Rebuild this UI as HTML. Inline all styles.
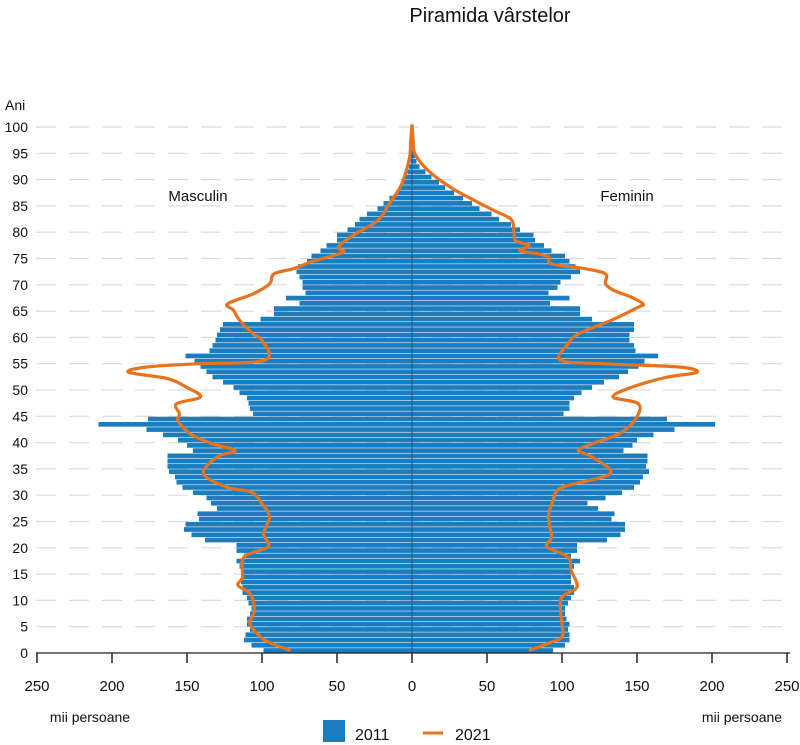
<!DOCTYPE html>
<html><head><meta charset="utf-8"><style>
body{margin:0;background:#fff;width:800px;height:745px;overflow:hidden}
svg{display:block}
text{font-family:"Liberation Sans",sans-serif;fill:#111}
</style></head><body>
<svg id="s" width="800" height="745" viewBox="0 0 800 745" xmlns="http://www.w3.org/2000/svg">
<text x="490" y="22" font-size="20" text-anchor="middle">Piramida vârstelor</text>
<text x="5" y="110" font-size="14">Ani</text>
<text x="198" y="201" font-size="15" text-anchor="middle">Masculin</text>
<text x="627" y="201" font-size="15" text-anchor="middle">Feminin</text>
<text x="90" y="722" font-size="14" text-anchor="middle">mii persoane</text>
<text x="742" y="722" font-size="14" text-anchor="middle">mii persoane</text>
<rect x="323" y="720" width="22" height="22" fill="#1a7dbf"/>
<text x="355" y="740" font-size="16">2011</text>
<line x1="423" y1="733" x2="443" y2="733" stroke="#e8731f" stroke-width="3"/>
<text x="455" y="740" font-size="16">2021</text>
<g id="g"></g>
</svg>
<script>
var M=[99,107,112,111,108,110,110,108,107,109,110,113,113,114,114,114,115,117,112,117,117,138,147,152,151,142,143,130,134,137,146,153,157,158,162,163,163,163,146,150,156,166,177,209,176,106,108,109,110,115,119,126,133,137,141,145,151,135,133,131,130,128,126,101,92,92,75,84,71,73,73,75,77,76,70,67,61,57,50,50,43,38,35,30,23,19,15,10,8,6,4.5,3,2,1,0.8,0.6,0.4,0.3,0.2,0.1,0.1];
var F=[94,102,105,105,104,105,103,102,102,104,106,108,108,106,106,106,108,112,106,110,110,130,139,142,142,133,135,124,117,129,140,148,152,154,158,156,157,157,141,147,150,161,175,202,170,101,105,105,108,113,120,128,138,144,151,155,164,149,148,145,145,148,148,120,112,112,92,105,91,97,99,106,112,109,105,102,93,88,82,81,72,66,58,53,45,40,34,28,22,18,13,9,5,3,2,1.5,1,0.6,0.4,0.2,0.1];
var LM=[[0,81],[1.5,95],[2.6,101],[5.1,108],[7.7,105],[10.8,108],[12.4,116],[14,113],[17.8,112],[19.7,96],[22.2,99],[25.4,95],[27.9,100],[30.1,107],[31,123],[33.6,139],[36.8,130],[38,118],[39.3,133],[41.2,148],[43.7,156],[45,155],[46.9,157],[48.2,141],[50,150],[51.7,163],[52.9,189],[53.9,177],[54.5,144],[55.2,98],[59,100],[60.2,106],[62.8,115],[64.7,119],[65.9,123],[67.8,106],[69.7,95],[71.6,92],[72.6,79],[74,66],[75.7,46],[76.7,49],[79,39],[81.7,23],[85,15],[88,8],[91,4],[94,1.5],[97,0.8],[100,0]];
var LF=[[0,78],[1.5,92],[2.6,100],[5.1,100],[7.7,99],[10.2,100],[12.1,110],[15.3,106],[17.8,104],[19.7,90],[21.6,93],[25.4,91],[28.5,94],[31,100],[33.6,132],[36.8,120],[38,111],[39.3,120],[41.2,138],[44,149],[46.9,151],[48.2,134],[50,146],[51.9,169],[52.9,190],[53.9,178],[54.5,129],[55.2,99],[58.3,104],[60.2,111],[62.8,133],[65.3,151],[65.9,154],[67.2,146],[68.4,135],[69.7,129],[71.6,129],[72.6,115],[73.5,93],[74.8,91],[75.4,84],[76,72],[77,78],[77.9,69],[79.7,68],[82,66],[83.6,55],[85.5,42],[88,26],[91.2,11],[94.4,2],[97,0.8],[100,0]];
var g=document.getElementById('g'),h='';
function Y(a){return 650.5-a*5.26}
for(var a=0;a<=100;a+=5){var y=653-a*5.26;
 if(a>0)h+='<line x1="36" y1="'+y+'" x2="790" y2="'+y+'" stroke="#dcdcdc" stroke-width="1.2" stroke-dasharray="20,13"/>';
 h+='<text x="28" y="'+(y+5)+'" font-size="14" text-anchor="end">'+a+'</text>';}
for(var i=0;i<=100;i++){var yc=Y(i),w=M[i]*1.5,wf=F[i]*1.5;
 h+='<rect x="'+(412-w)+'" y="'+(yc-2.35)+'" width="'+w+'" height="4.7" fill="#1a7dbf"/>';
 h+='<rect x="412" y="'+(yc-2.35)+'" width="'+wf+'" height="4.7" fill="#1a7dbf"/>';}
h+='<line x1="412" y1="125" x2="412" y2="653" stroke="#1c5b85" stroke-width="1"/>';
function path(L,s){var P=L.map(function(p){return [412+s*p[1]*1.5,Y(p[0])]});
 var d='M'+P[0][0].toFixed(1)+','+P[0][1].toFixed(1);
 for(var i=0;i<P.length-1;i++){var p0=P[Math.max(0,i-1)],p1=P[i],p2=P[i+1],p3=P[Math.min(P.length-1,i+2)];
  var c1x=p1[0]+(p2[0]-p0[0])/6,c1y=p1[1]+(p2[1]-p0[1])/6,c2x=p2[0]-(p3[0]-p1[0])/6,c2y=p2[1]-(p3[1]-p1[1])/6;
  d+=' C'+c1x.toFixed(1)+','+c1y.toFixed(1)+' '+c2x.toFixed(1)+','+c2y.toFixed(1)+' '+p2[0].toFixed(1)+','+p2[1].toFixed(1);}
 return d;}
h+='<path d="'+path(LM,-1)+'" fill="none" stroke="#e8731f" stroke-width="3.2" stroke-linejoin="round"/>';
h+='<path d="'+path(LF,1)+'" fill="none" stroke="#e8731f" stroke-width="3.2" stroke-linejoin="round"/>';
h+='<line x1="36" y1="653" x2="790" y2="653" stroke="#222" stroke-width="1.3"/>';
var labs=[250,200,150,100,50,0,50,100,150,200,250];
for(var k=0;k<11;k++){var x=37+k*75;
 h+='<line x1="'+x+'" y1="653" x2="'+x+'" y2="663" stroke="#222" stroke-width="1.5"/>';
 h+='<text x="'+x+'" y="691" font-size="15" text-anchor="middle">'+labs[k]+'</text>';}
g.innerHTML=h;
</script>
</body></html>
